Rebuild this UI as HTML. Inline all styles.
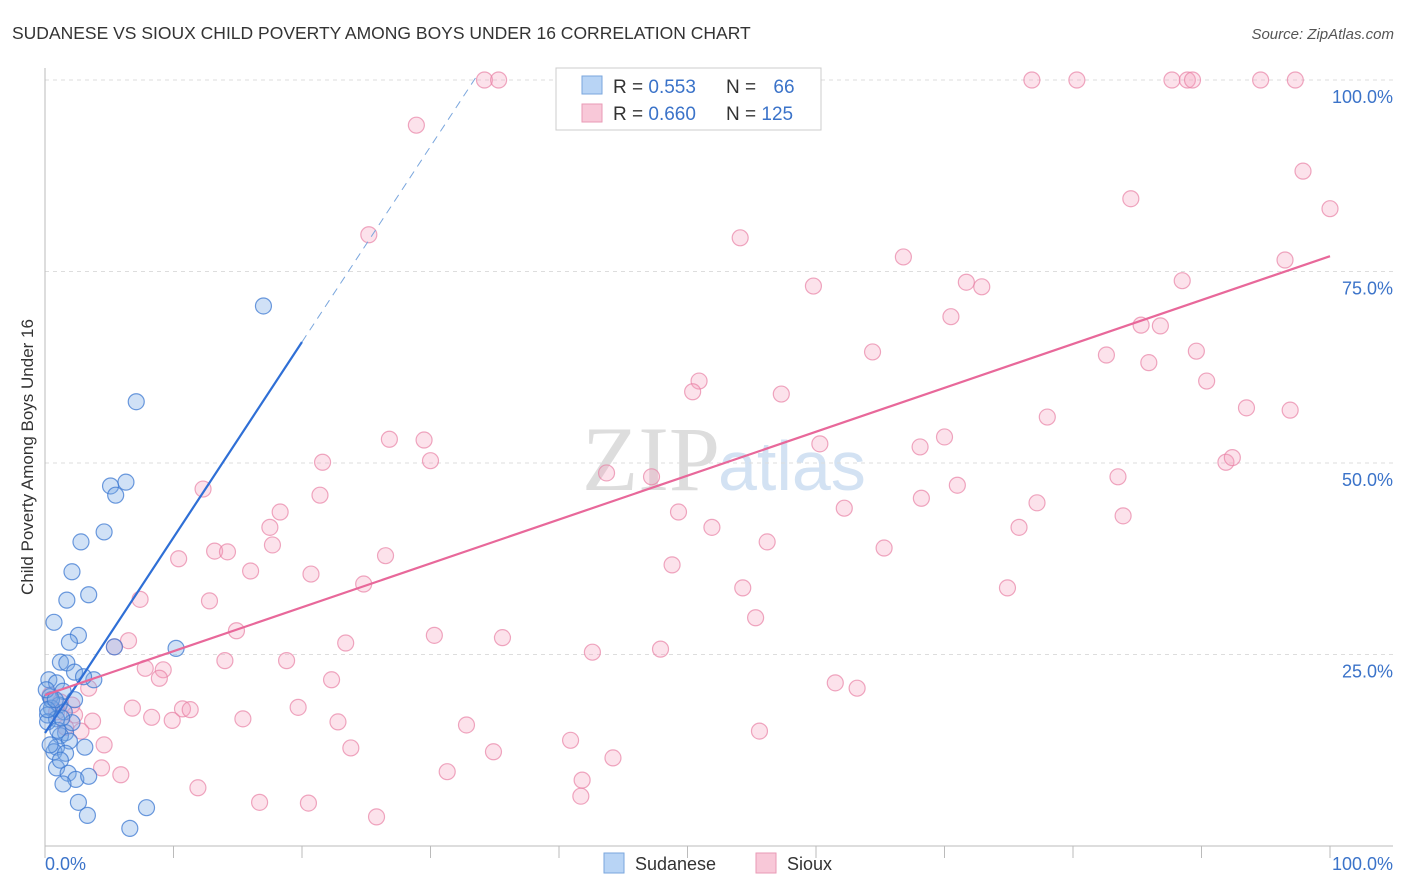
<!DOCTYPE html>
<html><head><meta charset="utf-8"><style>
body{margin:0;background:#fff;font-family:"Liberation Sans",sans-serif;}
svg{display:block}
</style></head><body>
<svg id="chart" width="1406" height="892">
<text x="12" y="39" font-size="17.5" fill="#333">SUDANESE VS SIOUX CHILD POVERTY AMONG BOYS UNDER 16 CORRELATION CHART</text>
<text x="1394" y="39" font-size="15" fill="#555" font-style="italic" text-anchor="end">Source: ZipAtlas.com</text>
<text x="720" y="490" font-size="92" fill="#ddd" text-anchor="end" font-family="Liberation Serif">ZIP</text>
<text x="718" y="490" font-size="70" fill="#d3e2f3">atlas</text>
<g id="grid"></g>
<g id="axes"></g>
<g id="pts"></g>
<g id="lines"></g>
<text transform="translate(33,457) rotate(-90)" font-size="17" fill="#333" text-anchor="middle">Child Poverty Among Boys Under 16</text>
<g>
<rect x="556" y="68" width="265" height="62" fill="#fff" stroke="#ccc"/>
<rect x="582" y="76" width="20" height="18" fill="#b8d4f5" stroke="#7aa6dd"/>
<rect x="582" y="104" width="20" height="18" fill="#f8c8d8" stroke="#e99ab6"/>
<text x="613" y="93" font-size="19" fill="#333">R = <tspan fill="#3b73c9">0.553</tspan></text>
<text x="726" y="93" font-size="19" fill="#333">N = <tspan fill="#3b73c9" dx="12">66</tspan></text>
<text x="613" y="120" font-size="19" fill="#333">R = <tspan fill="#3b73c9">0.660</tspan></text>
<text x="726" y="120" font-size="19" fill="#333">N = <tspan fill="#3b73c9">125</tspan></text>
</g>
<g>
<rect x="604" y="853" width="20" height="20" fill="#b8d4f5" stroke="#7aa6dd"/>
<text x="635" y="870" font-size="18" fill="#333">Sudanese</text>
<rect x="756" y="853" width="20" height="20" fill="#f8c8d8" stroke="#e99ab6"/>
<text x="787" y="870" font-size="18" fill="#333">Sioux</text>
</g>
</svg>
<script>
const yTicks=[25,50,75,100];
const yTickLabels=["25.0%","50.0%","75.0%","100.0%"];
const xEndLabels=["0.0%","100.0%"];
const blueX=[17.0,7.1,6.3,5.1,5.5,4.6,2.8,2.1,3.4,1.7,0.7,2.6,1.9,10.2,5.4,1.2,1.7,0.3,0.9,2.3,3.8,3.0,1.4,0.4,2.3,1.1,0.5,0.2,1.5,0.9,0.2,1.6,1.2,1.9,0.9,0.7,3.1,1.6,0.9,1.8,2.4,3.4,1.4,2.6,3.3,7.9,6.6,0.5,0.1,1.0,2.1,0.4,1.2,0.2,0.8,1.3];
const blueY=[70.5,58.0,47.5,47.0,45.8,41.0,39.7,35.8,32.8,32.1,29.2,27.5,26.6,25.8,26.0,24.0,23.9,21.7,21.3,22.7,21.7,22.1,20.2,19.5,19.1,18.4,18.0,17.1,17.5,16.6,16.2,14.8,14.4,13.7,12.9,12.3,12.9,12.1,10.2,9.5,8.7,9.1,8.1,5.7,4.0,5.0,2.3,19.1,20.4,15.1,16.1,13.2,11.2,17.8,19.1,16.7];
const pinkX=[34.2,35.3,28.9,25.2,76.8,80.3,87.7,88.9,89.3,94.6,97.3,97.9,100,84.5,54.1,66.8,59.8,71.7,72.9,70.5,96.5,88.5,85.3,86.8,64.4,82.6,85.9,89.6,50.9,50.4,57.3,90.4,78.0,93.5,96.9,70.0,68.1,60.3,91.9,92.4,83.5,71.0,68.2,77.2,83.9,62.2,49.3,51.9,75.8,56.2,65.3,48.8,54.3,74.9,55.3,47.9,42.6,61.5,63.2,55.6,40.9,44.2,41.8,41.7,43.7,47.2,35.6,30.3,26.8,29.5,30.0,21.6,21.4,12.3,18.3,17.5,17.7,13.2,14.2,10.4,16.0,20.7,24.8,26.5,12.8,7.4,14.9,23.4,18.8,14.0,6.5,5.4,7.8,9.2,8.9,22.3,10.7,11.3,19.7,6.8,8.3,9.9,15.4,22.8,3.7,32.8,23.8,34.9,4.6,2.8,2.3,3.4,5.9,4.4,31.3,11.9,16.7,20.5,25.8,2.1,1.2,0.9,1.6,0.4];
const pinkY=[100,100,94.1,79.8,100,100,100,100,100,100,100,88.1,83.2,84.5,79.4,76.9,73.1,73.6,73.0,69.1,76.5,73.8,68.0,67.9,64.5,64.1,63.1,64.6,60.7,59.3,59.0,60.7,56.0,57.2,56.9,53.4,52.1,52.5,50.1,50.7,48.2,47.1,45.4,44.8,43.1,44.1,43.6,41.6,41.6,39.7,38.9,36.7,33.7,33.7,29.8,25.7,25.3,21.3,20.6,15.0,13.8,11.5,8.6,6.5,48.7,48.2,27.2,27.5,53.1,53.0,50.3,50.1,45.8,46.6,43.6,41.6,39.3,38.5,38.4,37.5,35.9,35.5,34.2,37.9,32.0,32.2,28.1,26.5,24.2,24.2,26.8,26.0,23.2,23.0,21.9,21.7,17.9,17.8,18.1,18.0,16.8,16.4,16.6,16.2,16.3,15.8,12.8,12.3,13.2,15.0,17.1,20.6,9.3,10.2,9.7,7.6,5.7,5.6,3.8,18.4,18.8,17.5,15.5,19.7];
const blueFit=[14.75,65.8]; // y at x=0 and x=20
const blueFitX=[0,20,33.5];
const pinkFit=[19.7,77.0]; // y at x=0 and x=100

const NS="http://www.w3.org/2000/svg";
const X=v=>45+v*12.85, Y=v=>846-v*7.66;
function mk(tag,attrs,parent){const e=document.createElementNS(NS,tag);for(const k in attrs)e.setAttribute(k,attrs[k]);document.getElementById(parent).appendChild(e);return e;}
yTicks.forEach((t,i)=>{
 const l=mk('line',{x1:45,x2:1393,y1:Y(t),y2:Y(t),stroke:'#ddd','stroke-dasharray':'4,4'},'grid');
 
 
 const tx=mk('text',{x:1393,y:Y(t)+23,'font-size':18,fill:'#3b73c9','text-anchor':'end'},'grid');
 tx.textContent=yTickLabels[i];
 
 
});
let a=mk('line',{x1:45,x2:45,y1:68,y2:846,stroke:'#bbb'},'axes');


a=mk('line',{x1:45,x2:1393,y1:846,y2:846,stroke:'#bbb'},'axes');


for(let i=0;i<=10;i++){
 const t=mk('line',{x1:X(i*10),x2:X(i*10),y1:846,y2:858,stroke:'#bbb'},'axes');
 
 
}
[[0,'start',45],[100,'end',1393]].forEach((d,i)=>{
 const t=mk('text',{x:d[2],y:870,'font-size':18,fill:'#3b73c9','text-anchor':d[1]},'axes');
 t.textContent=xEndLabels[i];
 
 
});
pinkX.forEach((x,i)=>{
 const c=mk('circle',{cx:X(x),cy:Y(pinkY[i]),r:8,fill:'rgba(244,160,190,0.3)',stroke:'rgba(232,130,165,0.7)','stroke-width':1.2},'pts');
 
 
});
blueX.forEach((x,i)=>{
 const c=mk('circle',{cx:X(x),cy:Y(blueY[i]),r:8,fill:'rgba(120,170,230,0.35)',stroke:'rgba(60,120,210,0.75)','stroke-width':1.2},'pts');
 
 
});
const bs=(blueFit[1]-blueFit[0])/blueFitX[1];
let l=mk('line',{x1:X(0),y1:Y(blueFit[0]),x2:X(blueFitX[1]),y2:Y(blueFit[1]),stroke:'#2f6fd6','stroke-width':2.2},'lines');


l=mk('line',{x1:X(blueFitX[1]),y1:Y(blueFit[1]),x2:X(blueFitX[2]),y2:Y(blueFit[0]+bs*blueFitX[2]),stroke:'#7aa6dd','stroke-width':1,'stroke-dasharray':'8,6'},'lines');


l=mk('line',{x1:X(0),y1:Y(pinkFit[0]),x2:X(100),y2:Y(pinkFit[1]),stroke:'#e8689a','stroke-width':2.2},'lines');


</script>
</body></html>
